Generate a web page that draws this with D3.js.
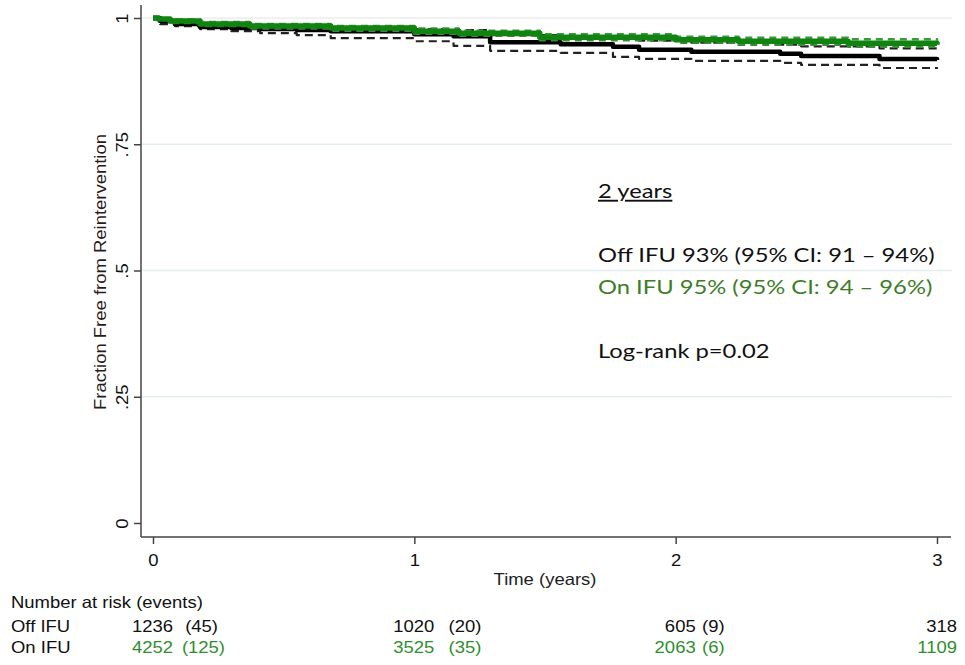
<!DOCTYPE html>
<html>
<head>
<meta charset="utf-8">
<script src="https://cdn.jsdelivr.net/npm/d3@7"></script>
<style>
  html, body { margin: 0; padding: 0; background: #fff; }
  svg { display: block; }
</style>
</head>
<body>
<svg id="chart" width="965" height="665"></svg>
<script>
// ---------- data ----------
const timeOff  = [0, 0.027, 0.084, 0.18, 0.30, 0.41, 0.55, 0.68, 1.0, 1.15, 1.29, 1.56, 1.76, 1.86, 2.06, 2.40, 2.48, 2.78, 3.0];
const survOff  = [1.0, 0.994, 0.988, 0.982, 0.980, 0.978, 0.976, 0.974, 0.968, 0.964, 0.952, 0.948, 0.943, 0.937, 0.933, 0.929, 0.925, 0.919, 0.917];
const lowerOff = [1.0, 0.988, 0.984, 0.978, 0.974, 0.970, 0.966, 0.960, 0.954, 0.945, 0.935, 0.931, 0.923, 0.919, 0.915, 0.911, 0.907, 0.901, 0.899];
const upperOff = [1.0, 0.998, 0.993, 0.987, 0.986, 0.985, 0.984, 0.982, 0.978, 0.976, 0.966, 0.963, 0.960, 0.955, 0.951, 0.947, 0.944, 0.940, 0.938];

const timeOn  = [0, 0.02, 0.065, 0.18, 0.37, 0.68, 1.0, 1.17, 1.48, 2.0, 2.24, 2.66, 3.0];
const survOn  = [1.0, 0.998, 0.994, 0.988, 0.984, 0.980, 0.974, 0.970, 0.962, 0.957, 0.954, 0.950, 0.947];
const upperOn = [1.0, 0.999, 0.997, 0.992, 0.988, 0.984, 0.979, 0.975, 0.968, 0.963, 0.961, 0.958, 0.955];
const lowerOn = [1.0, 0.996, 0.990, 0.984, 0.979, 0.975, 0.969, 0.965, 0.956, 0.951, 0.947, 0.943, 0.940];

const yTicks = [0, 0.25, 0.5, 0.75, 1];
const yTickLabels = ["0", ".25", ".5", ".75", "1"];
const xTicks = [0, 1, 2, 3];

const riskTimes   = [0, 1, 2, 3];
const riskOff     = ["1236", "1020", "605", "318"];
const eventsOff   = ["(45)", "(20)", "(9)", ""];
const riskOn      = ["4252", "3525", "2063", "1109"];
const eventsOn    = ["(125)", "(35)", "(6)", ""];

const annoTitle = "2 years";
const annoOff = "Off IFU 93% (95% CI: 91 \u2013 94%)";
const annoOn  = "On IFU 95% (95% CI: 94 \u2013 96%)";
const annoP   = "Log-rank p=0.02";

// ---------- drawing ----------
const svg = d3.select("#chart");
const BLACK = "#000000", GREEN = "#108310", GREEN_TXT = "#3d7d28", GREEN_TBL = "#2f8f2f";
const axisFont = "'Liberation Sans', Arial, sans-serif";
const annoFont = "Lato, 'Open Sans', sans-serif";
const AX_SIZE = 16.5, AX_SX = 1.12;
const AN_SIZE = 19, AN_SX = 1.25;

function txt(parent, x, y, str, o = {}) {
  const rot = o.rotate ? ` rotate(${o.rotate})` : "";
  return parent.append("text")
    .attr("transform", `translate(${x},${y})${rot} scale(${o.sx || AX_SX},1)`)
    .attr("text-anchor", o.anchor || "start")
    .attr("font-family", o.font || axisFont)
    .attr("font-size", o.size || AX_SIZE)
    .attr("fill", o.fill || "#111")
    .attr("text-decoration", o.deco || null)
    .text(str);
}

const x = d3.scaleLinear().domain([0, 3]).range([153, 937]);
const y = d3.scaleLinear().domain([0, 1]).range([523, 18]);

// gridlines
svg.append("g").selectAll("line").data(yTicks.filter(d => d > 0)).join("line")
  .attr("x1", 142).attr("x2", 952)
  .attr("y1", d => y(d)).attr("y2", d => y(d))
  .attr("stroke", d => d === 1 ? "#ececec" : "#e3eeee").attr("stroke-width", 1.5);

// axes
const yAxis = d3.axisLeft(y).tickValues(yTicks).tickFormat((d, i) => yTickLabels[i]).tickSize(7);
const gy = svg.append("g").attr("transform", "translate(141,0)").call(yAxis);
gy.select(".domain").attr("d", "M0,5V537").attr("stroke", "#444").attr("stroke-width", 1.5);
gy.selectAll(".tick line").attr("stroke", "#444").attr("stroke-width", 1.5);
gy.selectAll(".tick text")
  .attr("font-family", axisFont).attr("font-size", AX_SIZE).attr("fill", "#111")
  .attr("x", null).attr("dy", null)
  .attr("text-anchor", "middle")
  .attr("transform", `translate(-13,0) rotate(-90) scale(${AX_SX},1)`);

const xAxis = d3.axisBottom(x).tickValues(xTicks).tickFormat(d3.format("d")).tickSize(7);
const gx = svg.append("g").attr("transform", "translate(0,537)").call(xAxis);
gx.select(".domain").attr("d", "M141,0H951").attr("stroke", "#444").attr("stroke-width", 1.5);
gx.selectAll(".tick line").attr("stroke", "#444").attr("stroke-width", 1.5);
gx.selectAll(".tick text")
  .attr("font-family", axisFont).attr("font-size", AX_SIZE).attr("fill", "#111")
  .attr("y", null).attr("dy", null)
  .attr("transform", `translate(0,29) scale(${AX_SX},1)`);

// axis titles
txt(svg, 106, 272, "Fraction Free from Reintervention", {rotate: -90, anchor: "middle", fill: "#2a1a1a"});
txt(svg, 545, 585, "Time (years)", {anchor: "middle", fill: "#222"});

// curves
const line = d3.line().x(d => x(d[0])).y(d => y(d[1])).curve(d3.curveStepAfter);
const pts = (t, s) => t.map((v, i) => [v, s[i]]);

function drawLine(t, s, color, width, dash) {
  svg.append("path")
    .attr("d", line(pts(t, s)))
    .attr("fill", "none")
    .attr("stroke", color)
    .attr("stroke-width", width)
    .attr("stroke-dasharray", dash || null)
    .attr("stroke-linejoin", "round");
}

drawLine(timeOff, lowerOff, "#222", 2.2, "8,5");
drawLine(timeOff, upperOff, "#222", 2.2, "8,5");
drawLine(timeOff, survOff, BLACK, 4.5);
drawLine(timeOn, lowerOn, "#3a8a3a", 2.5, "7,5");
drawLine(timeOn, upperOn, "#3a9a3a", 2.5, "7,5");
drawLine(timeOn, survOn, GREEN, 5.5);

// annotation
const ax = 598;
const an = {font: annoFont, size: AN_SIZE, sx: AN_SX};
txt(svg, ax, 198, annoTitle, {...an, deco: "underline"});
txt(svg, ax, 262, annoOff, an);
txt(svg, ax, 294, annoOn, {...an, fill: GREEN_TXT});
txt(svg, ax, 358, annoP, an);

// risk table
txt(svg, 11, 608, "Number at risk (events)");
const rows = [
  {label: "Off IFU", n: riskOff, e: eventsOff, color: "#111", yy: 632, evEnd: [65, 67, 49, 0]},
  {label: "On IFU",  n: riskOn,  e: eventsOn,  color: GREEN_TBL, yy: 653, evEnd: [72, 67, 49, 0]}
];
rows.forEach(r => {
  txt(svg, 11, r.yy, r.label);
  riskTimes.forEach((t, i) => {
    txt(svg, x(t) + 20, r.yy, r.n[i], {anchor: "end", fill: r.color});
    if (r.e[i]) txt(svg, x(t) + r.evEnd[i], r.yy, r.e[i], {anchor: "end", fill: r.color});
  });
});
</script>
</body>
</html>
